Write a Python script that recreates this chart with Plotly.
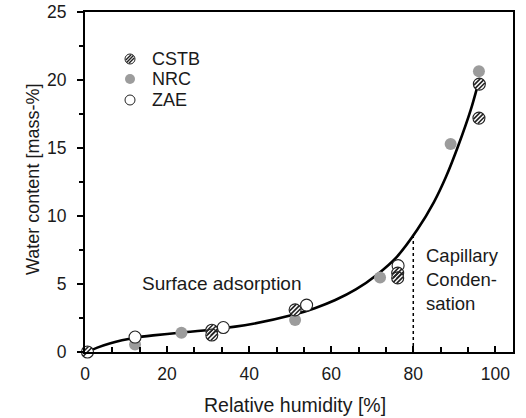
import plotly.graph_objects as go

# ---------------- data ----------------
cstb_rh = [0.6, 30.9, 30.9, 51.2, 76.2, 76.2, 96.1, 96.0]
cstb_w = [0.0, 1.6, 1.25, 3.1, 5.8, 5.45, 19.7, 17.2]
nrc_rh = [12.2, 23.5, 51.2, 71.9, 89.1, 96.0]
nrc_w = [0.55, 1.42, 2.35, 5.47, 15.3, 20.65]
zae_rh = [12.2, 33.7, 54.0, 76.3]
zae_w = [1.1, 1.8, 3.45, 6.35]
curve_rh = [0.5, 3, 6, 9, 12.2, 16.6, 23, 31, 41, 51, 56, 61, 66, 71, 76, 81, 85, 88, 91, 94, 95.6]
curve_w = [0.0, 0.32, 0.62, 0.86, 1.05, 1.22, 1.42, 1.65, 2.08, 2.75, 3.22, 3.82, 4.6, 5.65, 7.0, 9.0, 11.0, 12.9, 15.2, 17.8, 19.5]
boundary_rh = 80
boundary_top = 8.5
x_ticks = [0, 20, 40, 60, 80, 100]
y_ticks = [0, 5, 10, 15, 20, 25]
legend_names = ["CSTB", "NRC", "ZAE"]
x_title = "Relative humidity [%]"
y_title = "Water content [mass-%]"

# ---------------- layout geometry ----------------
W, H = 526, 418
ML, MR, MT, MB = 85, 13, 12, 66
PW, PH = W - ML - MR, H - MT - MB
XR = [0, 104.3]
YR = [0, 25]
kx = PW / (XR[1] - XR[0])
ky = PH / (YR[1] - YR[0])

GRAY = "#9c9c9c"
FONT = "Liberation Sans, Arial, sans-serif"
TXT = "#1a1a1a"

fig = go.Figure()

# fitted curve
fig.add_trace(go.Scatter(x=curve_rh, y=curve_w, mode="lines",
                         line=dict(color="black", width=2.6, shape="spline", smoothing=0.8),
                         hoverinfo="skip", showlegend=False))
# boundary dotted line
fig.add_trace(go.Scatter(x=[boundary_rh, boundary_rh], y=[0, boundary_top], mode="lines",
                         line=dict(color="black", width=1.5, dash="dot"),
                         hoverinfo="skip", showlegend=False))

# NRC
fig.add_trace(go.Scatter(x=nrc_rh, y=nrc_w, mode="markers", name="NRC", cliponaxis=False,
                         marker=dict(symbol="circle", size=12, color=GRAY, line=dict(width=0)),
                         showlegend=False))
# ZAE
fig.add_trace(go.Scatter(x=zae_rh, y=zae_w, mode="markers", name="ZAE", cliponaxis=False,
                         marker=dict(symbol="circle", size=12, color="white",
                                     line=dict(width=1.1, color="#222")),
                         showlegend=False))
# CSTB (hatched circles)
fig.add_trace(go.Scatter(x=cstb_rh, y=cstb_w, mode="markers", name="CSTB", cliponaxis=False,
                         marker=dict(symbol="circle", size=12, color="white",
                                     line=dict(width=1.1, color="#222")),
                         showlegend=False))
off = 2.2  # px offset perpendicular to stripes
for sgn, sz in [(0, 8.5), (1, 6.5), (-1, 6.5)]:
    hx = [v + sgn * off / kx for v in cstb_rh]
    hy = [v - sgn * off / ky for v in cstb_w]
    fig.add_trace(go.Scatter(x=hx, y=hy, mode="markers", cliponaxis=False, hoverinfo="skip",
                             marker=dict(symbol="line-ne", size=sz,
                                         line=dict(width=1.6, color="#222")),
                             showlegend=False))

# ---------------- manual legend ----------------
def px2paper(px, py):
    return (px - ML) / PW, (MT + PH - py) / PH

shapes = []
annotations = []
leg_rows = [59, 79, 100]
leg_mx, leg_tx = 130, 150
r = 5
for name, py in zip(legend_names, leg_rows):
    cx, cy = px2paper(leg_mx, py)
    rx, ry = r / PW, r / PH
    if name == "NRC":
        shapes.append(dict(type="circle", xref="paper", yref="paper",
                           x0=cx - rx, x1=cx + rx, y0=cy - ry, y1=cy + ry,
                           fillcolor=GRAY, line=dict(width=0)))
    else:
        shapes.append(dict(type="circle", xref="paper", yref="paper",
                           x0=cx - rx, x1=cx + rx, y0=cy - ry, y1=cy + ry,
                           fillcolor="white", line=dict(width=1, color="#222")))
        if name == "CSTB":
            for d, h in [(0, 3.4), (2.2, 2.6), (-2.2, 2.6)]:
                ox, oy = d * 0.707, d * 0.707
                x0, y0 = px2paper(leg_mx + ox - h, py + oy + h)
                x1, y1 = px2paper(leg_mx + ox + h, py + oy - h)
                shapes.append(dict(type="line", xref="paper", yref="paper",
                                   x0=x0, y0=y0, x1=x1, y1=y1,
                                   line=dict(width=1.4, color="#222")))
    tx, ty = px2paper(leg_tx, py)
    annotations.append(dict(x=tx, y=ty, xref="paper", yref="paper", text=name,
                            showarrow=False, xanchor="left", yanchor="middle",
                            font=dict(size=18, family=FONT, color=TXT)))

# region labels
annotations.append(dict(x=13.4, y=5.07, xref="x", yref="y", text="Surface adsorption",
                        showarrow=False, xanchor="left", yanchor="middle",
                        font=dict(size=19, family=FONT, color=TXT)))
annotations.append(dict(x=82.6, y=5.3, xref="x", yref="y",
                        text="Capillary<br>Conden-<br>sation", align="left",
                        showarrow=False, xanchor="left", yanchor="middle",
                        font=dict(size=18.5, family=FONT, color=TXT)))

# axis titles (placed as annotations for exact positioning)
tx, ty = px2paper(295, 405)
annotations.append(dict(x=tx, y=ty, xref="paper", yref="paper", text=x_title,
                        showarrow=False, xanchor="center", yanchor="middle",
                        font=dict(size=19.5, family=FONT, color=TXT)))
tx, ty = px2paper(33, 180)
annotations.append(dict(x=tx, y=ty, xref="paper", yref="paper", text=y_title,
                        textangle=-90, showarrow=False, xanchor="center", yanchor="middle",
                        font=dict(size=18, family=FONT, color=TXT)))

fig.update_layout(
    width=W, height=H,
    margin=dict(l=ML, r=MR, t=MT, b=MB, pad=0, autoexpand=False),
    paper_bgcolor="white", plot_bgcolor="white",
    shapes=shapes, annotations=annotations,
    font=dict(family=FONT, color=TXT),
    xaxis=dict(range=XR, tickvals=x_ticks, ticks="inside", ticklen=6, tickwidth=1.5,
               tickcolor="black", showline=True, linecolor="black", linewidth=2,
               mirror=True, showgrid=False, zeroline=False, automargin=False,
               tickfont=dict(size=17.5, family=FONT, color=TXT), ticklabelstandoff=5,
               minor=dict(ticks="inside", tick0=0, dtick=20 / 3, ticklen=5,
                          tickwidth=1.5, tickcolor="black", showgrid=False)),
    yaxis=dict(range=YR, tickvals=y_ticks, ticks="outside", ticklen=6, tickwidth=1.5,
               tickcolor="black", showline=True, linecolor="black", linewidth=2,
               mirror=True, showgrid=False, zeroline=False, automargin=False,
               tickfont=dict(size=17.5, family=FONT, color=TXT), ticklabelstandoff=7,
               minor=dict(ticks="outside", tick0=0, dtick=2.5, ticklen=4,
                          tickwidth=1.5, tickcolor="black", showgrid=False)),
)

fig.write_html("out.html")
